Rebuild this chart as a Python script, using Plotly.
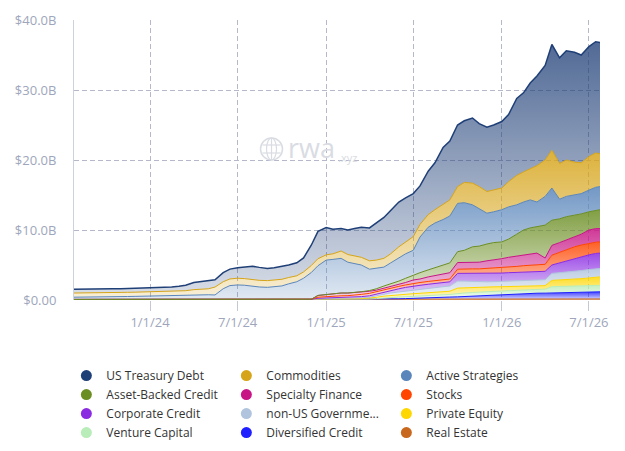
import plotly.graph_objects as go

# semi-monthly sample dates
dates = [
    "2023-07-27", "2023-08-15", "2023-09-01", "2023-09-15", "2023-10-01", "2023-10-15",
    "2023-11-01", "2023-11-15", "2023-12-01", "2023-12-15", "2024-01-01", "2024-01-15",
    "2024-02-01", "2024-02-15", "2024-03-01", "2024-03-15", "2024-04-01", "2024-04-15",
    "2024-05-01", "2024-05-15", "2024-06-01", "2024-06-15", "2024-07-01", "2024-07-15",
    "2024-08-01", "2024-08-15", "2024-09-01", "2024-09-15", "2024-10-01", "2024-10-15",
    "2024-11-01", "2024-11-15", "2024-12-01", "2024-12-15", "2025-01-01", "2025-01-15",
    "2025-02-01", "2025-02-15", "2025-03-01", "2025-03-15", "2025-04-01", "2025-04-15",
    "2025-05-01", "2025-05-15", "2025-06-01", "2025-06-15", "2025-07-01", "2025-07-15",
    "2025-08-01", "2025-08-15", "2025-09-01", "2025-09-15", "2025-10-01", "2025-10-15",
    "2025-11-01", "2025-11-15", "2025-12-01", "2025-12-15", "2026-01-01", "2026-01-15",
    "2026-02-01", "2026-02-15", "2026-03-01", "2026-03-15", "2026-04-01", "2026-04-15",
    "2026-05-01", "2026-05-15", "2026-06-01", "2026-06-15", "2026-07-01", "2026-07-15",
    "2026-07-24",
]

# values in $B
us_treasury = [
    0.55, 0.55, 0.5, 0.53, 0.53, 0.55, 0.54, 0.55, 0.56, 0.57, 0.57, 0.57, 0.6, 0.63,
    0.67, 0.77, 1.02, 1.07, 1.1, 1.05, 1.3, 1.4, 1.5, 1.65, 1.9, 1.85, 1.74, 1.8, 1.85,
    1.8, 1.85, 2.0, 2.9,
    3.9, 3.9, 3.5, 3.2, 3.5, 3.9, 4.3, 4.7, 5.3, 5.85, 6.2, 6.4, 6.3, 6.15, 5.5, 6.2,
    6.7, 8.2, 8.4, 8.8, 8.8, 9.3, 9.0, 9.2, 9.3, 9.5, 9.6, 11.0, 11.3, 12.2, 12.8, 13.5,
    15.1, 15.1, 15.6, 15.7, 15.4, 15.7, 15.9, 15.9,
]
commodities = [
    0.6, 0.6, 0.58, 0.6, 0.6, 0.6, 0.6, 0.6, 0.6, 0.6, 0.61, 0.6, 0.6, 0.62, 0.63, 0.63,
    0.7, 0.73, 0.85, 1.13, 1.0, 0.95, 0.96, 0.95, 0.95, 0.95, 0.96, 0.95, 0.95, 0.9,
    0.85, 0.9, 1.0,
    1.0, 0.75, 0.8, 1.05, 1.1, 1.1, 1.1, 1.2, 1.2, 1.25, 1.3, 1.6, 1.7, 1.95, 1.8, 1.8,
    1.9, 2.1, 2.3, 2.4, 2.9, 3.1, 3.2, 3.1, 3.1, 3.1, 3.6, 4.2, 4.3, 4.5, 5.2, 5.2, 5.4,
    5.1, 5.2, 4.7, 4.4, 4.8, 4.9, 4.7,
]
active_strategies = [
    0.32, 0.32, 0.34, 0.34, 0.37, 0.37, 0.4, 0.42, 0.44, 0.47, 0.49, 0.47, 0.5, 0.52,
    0.57, 0.62, 0.7, 0.72, 0.67, 0.64, 1.52, 1.97, 2.06, 2.02, 1.87, 1.77, 1.72, 1.77,
    1.92, 2.22, 2.52, 3.02, 3.82,
    4.25, 4.9, 4.9, 4.95, 4.4, 4.15, 3.82, 3.05, 2.9, 2.7, 3.0, 3.3, 3.5, 3.53, 5.1,
    6.1, 6.4, 6.5, 6.7, 6.9, 6.8, 6.0, 5.3, 4.4, 4.4, 4.6, 4.6, 4.2, 4.0, 4.0, 3.5,
    4.1, 4.6, 2.8, 2.9, 2.9, 2.9, 3.1, 3.3, 3.3,
]
asset_backed = [
    0, 0, 0, 0, 0, 0, 0, 0, 0, 0, 0, 0, 0, 0, 0, 0, 0, 0, 0, 0, 0, 0, 0, 0, 0, 0, 0, 0,
    0, 0, 0, 0, 0, 0, 0, 0, 0, 0, 0,
    0.03, 0.1, 0.2, 0.33, 0.4, 0.5, 0.6, 0.71, 0.9, 1.0, 1.1, 1.2, 1.4, 1.55, 1.75, 2.3,
    2.3, 2.4, 2.5, 2.4, 2.6, 3.1, 3.55, 3.7, 3.8, 4.7, 3.6, 3.4, 3.3, 3.05, 2.9, 2.6,
    2.6, 2.7,
]
specialty_finance = [
    0, 0, 0, 0, 0, 0, 0, 0, 0, 0, 0, 0, 0, 0, 0, 0, 0, 0, 0, 0, 0, 0, 0, 0, 0, 0, 0, 0,
    0, 0, 0, 0, 0,
    0.25, 0.3, 0.35, 0.4, 0.38, 0.37, 0.35, 0.3, 0.2, 0.24, 0.2, 0.25, 0.35, 0.48, 0.5,
    0.65, 0.75, 0.94, 0.9, 0.95, 0.9, 0.85, 0.95, 1.1, 1.15, 1.3, 1.4, 1.5, 1.55, 1.65,
    1.7, 0.9, 1.4, 1.4, 1.4, 1.45, 1.55, 1.9, 1.95, 1.9,
]
stocks = [
    0, 0, 0, 0, 0, 0, 0, 0, 0, 0, 0, 0, 0, 0, 0, 0, 0, 0, 0, 0, 0, 0, 0, 0, 0, 0, 0, 0,
    0, 0, 0, 0, 0,
    0.15, 0.22, 0.25, 0.27, 0.27, 0.28, 0.32, 0.35, 0.35, 0.33, 0.35, 0.35, 0.35, 0.38,
    0.4, 0.4, 0.37, 0.36, 0.4, 0.6, 0.65, 0.7, 0.7, 0.7, 0.73, 0.75, 0.8, 0.85, 0.9,
    0.93, 0.95, 1.0, 1.4, 1.5, 1.6, 1.65, 1.65, 1.65, 1.6, 1.6,
]
corporate_credit = [
    0, 0, 0, 0, 0, 0, 0, 0, 0, 0, 0, 0, 0, 0, 0, 0, 0, 0, 0, 0, 0, 0, 0, 0, 0, 0, 0, 0,
    0, 0, 0, 0, 0,
    0.05, 0.08, 0.08, 0.09, 0.1, 0.12, 0.16, 0.2, 0.25, 0.25, 0.35, 0.45, 0.52, 0.6,
    0.6, 0.6, 0.6, 0.6, 0.6, 1.1, 1.1, 1.1, 1.15, 1.2, 1.2, 1.2, 1.2, 1.2, 1.2, 1.19,
    1.19, 1.2, 1.2, 1.42, 1.64, 1.9, 2.0, 2.1, 2.2, 2.2,
]
non_us_gov = [
    0, 0, 0, 0, 0, 0, 0, 0, 0, 0, 0, 0, 0, 0, 0, 0, 0, 0, 0, 0, 0, 0, 0, 0, 0, 0, 0, 0,
    0, 0, 0, 0, 0,
    0.05, 0.05, 0.07, 0.08, 0.09, 0.1, 0.12, 0.15, 0.22, 0.3, 0.35, 0.4, 0.46, 0.5,
    0.54, 0.6, 0.66, 0.7, 0.75, 1.0, 0.95, 0.85, 0.78, 0.75, 0.74, 0.75, 0.78, 0.8,
    0.83, 0.85, 0.86, 0.85, 1.0, 1.03, 1.06, 1.1, 1.15, 1.2, 1.2, 1.2,
]
private_equity = [
    0, 0, 0, 0, 0, 0, 0, 0, 0, 0, 0, 0, 0, 0, 0, 0, 0, 0, 0, 0, 0, 0, 0, 0, 0, 0, 0, 0,
    0, 0, 0, 0, 0,
    0.03, 0.03, 0.03, 0.04, 0.04, 0.05, 0.06, 0.1, 0.18, 0.25, 0.29, 0.33, 0.36, 0.4,
    0.4, 0.42, 0.42, 0.45, 0.45, 0.75, 0.75, 0.72, 0.68, 0.65, 0.63, 0.6, 0.57, 0.55,
    0.54, 0.51, 0.5, 0.5, 0.9, 0.92, 0.94, 0.95, 1.02, 1.09, 1.15, 1.2,
]
venture_capital = [
    0, 0, 0, 0, 0, 0, 0, 0, 0, 0, 0, 0, 0, 0, 0, 0, 0, 0, 0, 0, 0, 0, 0, 0, 0, 0, 0, 0,
    0, 0, 0, 0, 0,
    0.02, 0.02, 0.02, 0.02, 0.02, 0.03, 0.04, 0.05, 0.1, 0.18, 0.21, 0.25, 0.26, 0.28,
    0.31, 0.33, 0.37, 0.37, 0.38, 0.5, 0.5, 0.53, 0.54, 0.55, 0.53, 0.5, 0.5, 0.5,
    0.51, 0.52, 0.53, 0.57, 0.9, 0.91, 0.91, 0.92, 0.93, 0.94, 0.95, 0.93,
]
diversified_credit = [
    0, 0, 0, 0, 0, 0, 0, 0, 0, 0, 0, 0, 0, 0, 0, 0, 0, 0, 0, 0, 0, 0, 0, 0, 0, 0, 0, 0,
    0, 0, 0, 0, 0,
    0, 0, 0, 0, 0, 0, 0, 0, 0, 0.02, 0.05, 0.07, 0.1, 0.12, 0.15, 0.2, 0.23, 0.28, 0.32,
    0.35, 0.4, 0.45, 0.5, 0.55, 0.62, 0.7, 0.75, 0.8, 0.8, 0.83, 0.85, 0.86, 0.87, 0.89,
    0.91, 0.94, 0.96, 0.97, 1.0, 1.02,
]
real_estate = [
    0.08, 0.08, 0.08, 0.08, 0.08, 0.08, 0.08, 0.08, 0.08, 0.08, 0.08, 0.08, 0.08, 0.08,
    0.08, 0.08, 0.08, 0.08, 0.08, 0.08, 0.09, 0.09, 0.09, 0.09, 0.09, 0.09, 0.09, 0.09,
    0.09, 0.09, 0.09, 0.09, 0.1,
    0.1, 0.1, 0.1, 0.1, 0.1, 0.1, 0.1, 0.1, 0.1, 0.1, 0.1, 0.1, 0.1, 0.1, 0.1, 0.1, 0.1,
    0.1, 0.1, 0.1, 0.1, 0.1, 0.1, 0.1, 0.1, 0.1, 0.1, 0.1, 0.12, 0.12, 0.12, 0.12, 0.13,
    0.13, 0.14, 0.14, 0.14, 0.15, 0.15, 0.15,
]

# legend order (top of stack first)
names = [
    "US Treasury Debt", "Commodities", "Active Strategies",
    "Asset-Backed Credit", "Specialty Finance", "Stocks",
    "Corporate Credit", "non-US Governme...", "Private Equity",
    "Venture Capital", "Diversified Credit", "Real Estate",
]
series = [
    us_treasury, commodities, active_strategies,
    asset_backed, specialty_finance, stocks,
    corporate_credit, non_us_gov, private_equity,
    venture_capital, diversified_credit, real_estate,
]
colors = [
    "#1f3f77", "#d6a419", "#5a86bb",
    "#6b8e23", "#c71585", "#ff4500",
    "#8a2be2", "#b0c4de", "#ffd700",
    "#b8ecb8", "#1f1fff", "#c8681e",
]


def rgba(h, a):
    h = h.lstrip("#")
    r, g, b = int(h[0:2], 16), int(h[2:4], 16), int(h[4:6], 16)
    return f"rgba({r},{g},{b},{a})"


fig = go.Figure()

# stacked areas, bottom layer first
for name, vals, col in reversed(list(zip(names, series, colors))):
    top = name == "US Treasury Debt"
    fig.add_trace(go.Scatter(
        x=dates, y=vals, name=name, stackgroup="rwa", mode="lines",
        line=dict(color=col, width=1.5 if top else 1),
        fillgradient=dict(
            type="vertical",
            colorscale=[[0, rgba(col, 0.18)], [1, rgba(col, 0.78 if top else 0.85)]],
        ),
        showlegend=False, hoverinfo="skip",
    ))

# legend entries as round dots
for name, col in zip(names, colors):
    fig.add_trace(go.Scatter(
        x=[None], y=[None], name=name, mode="markers",
        marker=dict(color=col, size=11),
    ))

grid = "#b4b8c8"
tick_font = dict(size=13, color="#9ea6bb")

fig.update_xaxes(
    type="date",
    range=["2023-07-27", "2026-07-24"],
    tickvals=["2024-01-01", "2024-07-01", "2025-01-01", "2025-07-01", "2026-01-01", "2026-07-01"],
    tickformat="%-m/%-d/%y",
    showgrid=True, gridcolor=grid, griddash="5px,3px", gridwidth=1,
    ticks="outside", ticklen=10, tickcolor="#c4c8d4",
    showline=False, zeroline=False,
    tickfont=tick_font,
)
fig.update_yaxes(
    range=[0, 40],
    tickvals=[0, 10, 20, 30, 40],
    ticktext=["$0.00", "$10.0B", "$20.0B", "$30.0B", "$40.0B"],
    showgrid=True, gridcolor=grid, griddash="5px,3px", gridwidth=1,
    showline=True, linecolor="#ccd0e0", linewidth=1,
    zeroline=False, ticks="", ticklabelstandoff=14,
    tickfont=tick_font,
)

# rwa.xyz watermark
wm = "#d9dce3"
fig.add_shape(type="circle", xref="paper", yref="paper",
              x0=0.3546, x1=0.3964, y0=0.5, y1=0.5786, line=dict(color=wm, width=1.5))
fig.add_shape(type="circle", xref="paper", yref="paper",
              x0=0.3660, x1=0.3850, y0=0.5, y1=0.5786, line=dict(color=wm, width=1.2))
for yy in (0.5250, 0.5536):
    fig.add_shape(type="line", xref="paper", yref="paper",
                  x0=0.3580, x1=0.3930, y0=yy, y1=yy, line=dict(color=wm, width=1.2))
fig.add_shape(type="line", xref="paper", yref="paper",
              x0=0.3755, x1=0.3755, y0=0.5, y1=0.5786, line=dict(color=wm, width=1.2))
fig.add_annotation(text="rwa", xref="paper", yref="paper", x=0.403, y=0.545,
                   xanchor="left", yanchor="middle", showarrow=False,
                   font=dict(size=27, color=wm, family="Open Sans"))
fig.add_annotation(text=".xyz", xref="paper", yref="paper", x=0.499, y=0.51,
                   xanchor="left", yanchor="middle", showarrow=False,
                   font=dict(size=11, color=wm, family="Open Sans"))

# the page body adds an 8px offset, so the figure is drawn 8px smaller
fig.update_layout(
    width=617, height=443,
    margin=dict(l=66, r=25, t=12, b=151, autoexpand=False),
    paper_bgcolor="white", plot_bgcolor="white",
    font=dict(family="Open Sans", color="#333333"),
    hovermode=False,
    legend=dict(
        orientation="h", x=-0.0145, xanchor="left", y=-0.218, yanchor="top",
        entrywidth=115, font=dict(size=12, color="#333333"),
        traceorder="normal", bgcolor="rgba(0,0,0,0)",
    ),
)

fig.write_html("out.html")
